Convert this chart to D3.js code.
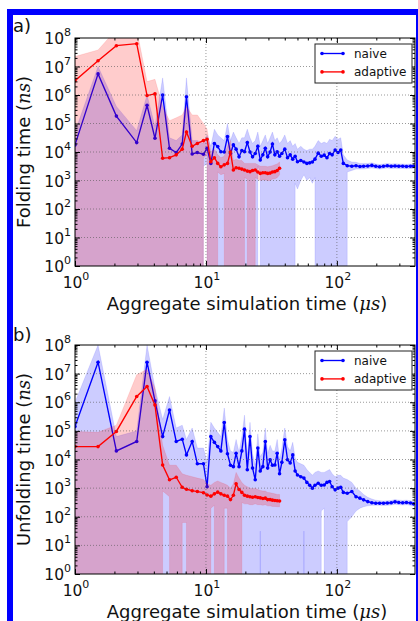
<!DOCTYPE html>
<html>
<head>
<meta charset="utf-8">
<script src="https://cdn.jsdelivr.net/npm/d3@7"></script>
<style>
  body { margin: 0; background: #fff; }
  svg { display: block; font-family: "DejaVu Sans", sans-serif; }
</style>
</head>
<body>
<div id="figure"></div>
<script>
// Aggregate simulation time (us), shared by both series
const simTime = [
  1.0, 1.5, 2.07, 2.96, 3.55, 4.08, 4.67, 5.27, 5.93, 6.59, 7.1, 7.85, 8.6, 9.57,
  10.2, 10.9, 11.6, 12.3, 13.0, 13.8, 14.6, 15.4, 16.2, 17.0, 17.9, 18.8, 19.7, 20.7,
  21.7, 22.7, 23.8, 24.9, 26.0, 27.2, 28.4, 29.6, 30.9, 32.2, 33.6, 35.0, 36.5,
  38, 40, 42, 44, 46, 48, 50, 53, 56, 59, 62, 65, 68, 72, 76, 80, 84, 88, 92, 97,
  102, 107, 112, 120, 130, 140, 150, 160, 172, 185, 198, 212, 227, 243, 260, 278,
  297, 318, 340, 365, 385,
];

// All series values are log10 of the time in ns; null = band runs off the bottom
const foldNaive = [
  4.25, 6.74, 5.26, 4.33, 5.64, 4.48, 6.0, 4.13, 3.98, 4.28, 5.94, 3.93, 3.98, 3.92,
  4.13, 3.6, 4.3, 4.19, 4.01, 4.0, 4.54, 3.95, 4.25, 4.1, 3.83, 4.05, 4.01, 4.33,
  4.0, 3.83, 3.95, 4.2, 3.72, 3.9, 4.13, 3.83, 4.0, 4.28, 3.9, 4.01, 3.85,
  3.95, 4.1, 3.8, 3.9, 3.75, 3.85, 3.66, 3.7, 3.65, 3.6, 3.62, 3.65, 3.75, 3.96,
  3.85, 3.89, 3.8, 3.95, 3.9, 4.07, 3.98, 4.07, 3.6, 3.52, 3.5, 3.52, 3.49, 3.5,
  3.51, 3.53, 3.5, 3.48, 3.5, 3.52, 3.5, 3.51, 3.5, 3.5, 3.49, 3.5, 3.5,
];
const foldNaiveHi = [
  4.7, 7.0, 5.6, 4.75, 6.0, 4.9, 6.6, 4.5, 4.4, 4.6, 6.6, 4.4, 4.4, 4.3,
  4.6, 4.2, 4.8, 4.6, 4.5, 4.4, 5.0, 4.4, 4.7, 4.5, 4.3, 4.5, 4.5, 4.8,
  4.5, 4.3, 4.4, 4.7, 4.2, 4.4, 4.6, 4.3, 4.5, 4.7, 4.4, 4.5, 4.3,
  4.4, 4.6, 4.3, 4.4, 4.2, 4.3, 4.1, 4.2, 4.1, 4.05, 4.1, 4.1, 4.2, 4.4,
  4.3, 4.35, 4.3, 4.45, 4.4, 4.55, 4.45, 4.5, 3.9, 3.72, 3.65, 3.64, 3.6, 3.6,
  3.6, 3.62, 3.58, 3.56, 3.58, 3.6, 3.58, 3.59, 3.58, 3.58, 3.57, 3.58, 3.58,
];
const foldNaiveLo = [
  null, null, null, null, null, null, null, null, null, null, null, null, null, 3.5,
  3.6, null, null, null, null, null, null, null, null, null, null, null, null, null,
  null, null, null, 3.5, 3.3, null, null, null, null, null, null, null, null,
  null, null, null, null, null, 2.9, 2.7, 3.0, 3.2, 3.0, 3.1, 2.9, 3.1, null,
  null, null, null, null, null, null, null, null, null, 3.3, 3.35, 3.4, 3.4, 3.4,
  3.42, 3.44, 3.42, 3.4, 3.42, 3.44, 3.42, 3.43, 3.42, 3.42, 3.41, 3.42, 3.42,
];
const foldAdaptive = [
  6.5, 7.2, 7.73, 7.8, 5.98, 6.04, 3.78, 3.8, 3.9, 4.1, 4.7, 4.2, 4.3, 4.4,
  4.45, 3.66, 3.8, 3.6, 3.48, 3.55, 3.6, 4.0, 3.37, 3.45, 3.43, 3.4, 3.37, 3.33,
  3.31, 3.35, 3.37, 3.3, 3.25, 3.27, 3.27, 3.25, 3.26, 3.3, 3.31, 3.35, 3.43,
];
const foldAdaptiveHi = [
  7.35, 7.58, 8.3, 8.3, 6.47, 6.55, 5.6, 5.1, 5.2, 5.3, 5.6, 5.3, 5.3, 5.0,
  4.8, 4.0, 4.1, 3.9, 3.8, 3.85, 4.2, 4.4, 3.7, 3.75, 3.7, 3.7, 3.6, 3.6,
  3.6, 3.6, 3.6, 3.55, 3.5, 3.5, 3.5, 3.48, 3.5, 3.52, 3.55, 3.58, 3.65,
];
const foldAdaptiveLo = [
  null, null, null, null, null, null, null, null, null, null, null, null, null, 3.8,
  3.9, null, null, 3.3, 3.2, 3.25, null, null, null, null, null, null, 3.1, 3.05,
  null, null, 3.1, 3.05, 3.0, 3.02, 3.02, 3.0, 3.0, 3.05, 3.06, 3.1, 3.2,
];

const unfoldNaive = [
  5.15, 7.4, 4.3, 4.63, 7.4, 6.05, 4.8, 5.73, 4.63, 4.71, 4.16, 4.63, 3.85, 3.85,
  3.05, 4.8, 4.6, 4.45, 4.3, 5.29, 4.2, 3.8, 3.75, 4.22, 3.75, 4.3, 5.06, 3.64,
  4.8, 3.7, 3.29, 4.4, 3.6, 3.75, 4.63, 3.7, 3.99, 3.8, 3.81, 4.22, 3.5,
  3.9, 4.69, 3.99, 3.88, 4.16, 3.6, 3.46, 3.4, 3.35, 3.2, 3.1, 3.0, 3.1, 3.17,
  3.1, 3.11, 3.2, 3.23, 3.05, 2.94, 3.0, 3.03, 2.85, 2.82, 2.88, 2.7, 2.65, 2.59,
  2.53, 2.49, 2.47, 2.47, 2.47, 2.48, 2.49, 2.52, 2.5, 2.49, 2.5, 2.48, 2.45,
];
const unfoldNaiveHi = [
  6.0, 8.0, 4.8, 5.0, 8.0, 6.5, 5.4, 6.2, 5.1, 5.2, 4.7, 5.1, 4.4, 4.4,
  3.9, 5.3, 5.1, 4.95, 4.8, 5.8, 4.7, 4.3, 4.25, 4.7, 4.25, 4.8, 5.55, 4.15,
  5.3, 4.2, 3.8, 4.9, 4.1, 4.25, 5.1, 4.2, 4.5, 4.3, 4.3, 4.7, 4.0,
  4.4, 5.1, 4.45, 4.3, 4.6, 4.05, 3.9, 3.85, 3.8, 3.65, 3.55, 3.45, 3.55, 3.6,
  3.55, 3.55, 3.6, 3.65, 3.5, 3.4, 3.45, 3.45, 3.35, 3.3, 3.2, 3.0, 2.9, 2.78,
  2.68, 2.62, 2.58, 2.56, 2.55, 2.56, 2.57, 2.6, 2.58, 2.57, 2.58, 2.56, 2.53,
];
const unfoldNaiveLo = [
  null, null, null, null, null, null, null, null, null, null, null, null, null, null,
  null, null, null, null, null, null, null, null, null, null, null, null, null, null,
  null, null, null, null, 1.5, null, null, null, null, null, null, null, null,
  null, null, null, null, null, null, null, null, 1.5, null, null, null, null, null,
  2.2, 2.3, null, null, null, null, null, null, null, 1.83, 2.0, 2.2, 2.3, 2.35,
  2.38, 2.4, 2.4, 2.4, 2.39, 2.4, 2.41, 2.44, 2.42, 2.41, 2.42, 2.4, 2.37,
];
const unfoldAdaptive = [
  4.45, 4.45, 4.98, 6.2, 6.55, 5.9, 3.81, 3.29, 3.38, 3.03, 2.96, 2.91, 2.88, 2.84,
  2.76, 2.72, 2.8, 2.86, 2.8, 2.75, 2.72, 2.6, 2.75, 3.15, 2.95, 2.85, 2.75, 2.72,
  2.7, 2.68, 2.7, 2.67, 2.66, 2.64, 2.65, 2.6, 2.6, 2.58, 2.57, 2.56, 2.55,
];
const unfoldAdaptiveHi = [
  4.98, 4.95, 5.2, 6.96, 7.15, 6.5, 4.5, 3.8, 3.8, 3.5, 3.45, 3.4, 3.35, 3.3,
  3.15, 3.1, 3.2, 3.25, 3.2, 3.15, 3.1, 3.0, 3.15, 3.55, 3.35, 3.2, 3.1, 3.05,
  3.0, 2.98, 3.0, 2.95, 2.92, 2.9, 2.9, 2.85, 2.84, 2.82, 2.8, 2.78, 2.78,
];
const unfoldAdaptiveLo = [
  null, null, null, null, null, null, 2.9, 2.7, null, 1.8, 1.8, null, null, null,
  null, 2.3, 2.4, null, null, 2.3, 2.3, null, null, null, null, 2.5, 2.45, 2.45,
  2.42, 2.42, 2.45, 2.42, 2.42, 2.4, 2.42, 2.38, 2.38, 2.36, 2.36, 2.35, 2.35,
];

const seriesNames = ["naive", "adaptive"];
const seriesColors = ["#0000ff", "#ff0000"];
const xTickExps = [0, 1, 2];
const yTickExps = [0, 1, 2, 3, 4, 5, 6, 7, 8];
const xLabel = "Aggregate simulation time (";
const yLabels = ["Folding time (", "Unfolding time ("];

const W = 418;
const H = 621;
const X_LEFT = 75;
const X_RIGHT = 415;

const panels = [
  {
    id: "a", letter: "a)", letterY: 32, top: 38, bottom: 266, ylabel: yLabels[0],
    series: [
      [foldNaive, foldNaiveHi, foldNaiveLo],
      [foldAdaptive, foldAdaptiveHi, foldAdaptiveLo],
    ],
  },
  {
    id: "b", letter: "b)", letterY: 341, top: 345, bottom: 574, ylabel: yLabels[1],
    series: [
      [unfoldNaive, unfoldNaiveHi, unfoldNaiveLo],
      [unfoldAdaptive, unfoldAdaptiveHi, unfoldAdaptiveLo],
    ],
  },
];

const svg = d3
  .select("#figure")
  .append("svg")
  .attr("width", W)
  .attr("height", H);

svg.append("rect").attr("width", W).attr("height", H).attr("fill", "#fff");

const x = d3.scaleLog().domain([1, 395]).range([X_LEFT, X_RIGHT]);

function drawPanel(p) {
  const y = d3.scaleLog().domain([1, 1e8]).range([p.bottom, p.top]);
  // null lower bounds behave like matplotlib's clipped log: far below the axis
  const yPos = (v) => y(v == null ? 1e-300 : Math.pow(10, v));

  svg
    .append("clipPath")
    .attr("id", `clip-${p.id}`)
    .append("rect")
    .attr("x", X_LEFT)
    .attr("y", p.top)
    .attr("width", X_RIGHT - X_LEFT)
    .attr("height", p.bottom - p.top);

  const plot = svg.append("g").attr("clip-path", `url(#clip-${p.id})`);

  const line = d3
    .line()
    .x((d) => x(d.t))
    .y((d) => yPos(d.m));

  const area = d3
    .area()
    .x((d) => x(d.t))
    .y0((d) => yPos(d.lo))
    .y1((d) => yPos(d.hi));

  p.series.forEach(([mean, hi, lo], si) => {
    const color = seriesColors[si];
    const pts = mean.map((m, i) => ({ t: simTime[i], m, hi: hi[i], lo: lo[i] }));

    plot
      .append("path")
      .datum(pts)
      .attr("d", line)
      .attr("fill", "none")
      .attr("stroke", color)
      .attr("stroke-width", 1.35);

    plot
      .append("g")
      .selectAll("circle")
      .data(pts)
      .enter()
      .append("circle")
      .attr("cx", (d) => x(d.t))
      .attr("cy", (d) => yPos(d.m))
      .attr("r", 1.8)
      .attr("fill", color);

    plot
      .append("path")
      .datum(pts)
      .attr("d", area)
      .attr("fill", color)
      .attr("fill-opacity", 0.2)
      .attr("stroke", color)
      .attr("stroke-opacity", 0.15)
      .attr("stroke-width", 0.7);
  });

  // dotted grid at the major ticks
  const grid = svg.append("g").attr("stroke", "#555").attr("stroke-width", 0.6).attr("stroke-dasharray", "1,2");
  yTickExps.slice(1, -1).forEach((e) => {
    grid.append("line").attr("x1", X_LEFT).attr("x2", X_RIGHT).attr("y1", y(10 ** e)).attr("y2", y(10 ** e));
  });
  xTickExps.slice(1).forEach((e) => {
    grid.append("line").attr("x1", x(10 ** e)).attr("x2", x(10 ** e)).attr("y1", p.top).attr("y2", p.bottom);
  });

  // inward ticks on all four spines
  const majorX = xTickExps.map((e) => 10 ** e);
  const minorX = x.ticks().filter((v) => !majorX.includes(v));
  const majorY = yTickExps.map((e) => 10 ** e);
  const minorY = [];
  yTickExps.slice(0, -1).forEach((e) => {
    for (let k = 2; k <= 9; k++) minorY.push(k * 10 ** e);
  });

  const addAxis = (axis, tx, ty) => {
    svg
      .append("g")
      .attr("transform", `translate(${tx},${ty})`)
      .attr("color", "#000")
      .call(axis.tickSizeOuter(0).tickFormat(""))
      .call((g) => g.select(".domain").remove());
  };
  [[majorX, 5], [minorX, 2.5]].forEach(([vals, len]) => {
    addAxis(d3.axisBottom(x).tickValues(vals).tickSize(-len), 0, p.bottom);
    addAxis(d3.axisTop(x).tickValues(vals).tickSize(-len), 0, p.top);
  });
  [[majorY, 5], [minorY, 2.5]].forEach(([vals, len]) => {
    addAxis(d3.axisLeft(y).tickValues(vals).tickSize(-len), X_LEFT, 0);
    addAxis(d3.axisRight(y).tickValues(vals).tickSize(-len), X_RIGHT, 0);
  });

  svg
    .append("rect")
    .attr("x", X_LEFT)
    .attr("y", p.top)
    .attr("width", X_RIGHT - X_LEFT)
    .attr("height", p.bottom - p.top)
    .attr("fill", "none")
    .attr("stroke", "#000")
    .attr("stroke-width", 1);

  // tick labels as 10 with superscript exponent
  const powLabel = (sel) =>
    sel.each(function (e) {
      const t = d3.select(this);
      t.append("tspan").attr("font-size", 15.5).text("10");
      t.append("tspan").attr("font-size", 11).attr("dy", -8).text(e);
    });

  svg
    .append("g")
    .attr("fill", "#111")
    .selectAll("text")
    .data(yTickExps)
    .enter()
    .append("text")
    .attr("x", X_LEFT - 4)
    .attr("y", (e) => y(10 ** e) + 6)
    .attr("text-anchor", "end")
    .call(powLabel);

  svg
    .append("g")
    .attr("fill", "#111")
    .selectAll("text")
    .data(xTickExps)
    .enter()
    .append("text")
    .attr("x", (e) => x(10 ** e) + 1)
    .attr("y", p.bottom + 22)
    .attr("text-anchor", "middle")
    .call(powLabel);

  // axis labels
  const xl = svg
    .append("text")
    .attr("x", (X_LEFT + X_RIGHT) / 2 + 2)
    .attr("y", p.bottom + 44)
    .attr("text-anchor", "middle")
    .attr("font-size", 18)
    .attr("fill", "#111");
  xl.append("tspan").text(xLabel);
  xl.append("tspan").attr("font-family", "DejaVu Serif").attr("font-style", "italic").text("\u03bcs");
  xl.append("tspan").text(")");

  const yl = svg
    .append("text")
    .attr("transform", `translate(30,${(p.top + p.bottom) / 2}) rotate(-90)`)
    .attr("text-anchor", "middle")
    .attr("font-size", 18)
    .attr("fill", "#111");
  yl.append("tspan").text(p.ylabel);
  yl.append("tspan").attr("font-family", "DejaVu Serif").attr("font-style", "italic").text("ns");
  yl.append("tspan").text(")");

  svg
    .append("text")
    .attr("x", 13)
    .attr("y", p.letterY)
    .attr("font-size", 18)
    .attr("fill", "#111")
    .text(p.letter);

  // legend
  const lg = svg.append("g").attr("transform", `translate(315,${p.top + 6})`);
  lg.append("rect")
    .attr("width", 97)
    .attr("height", 39)
    .attr("fill", "#fff")
    .attr("stroke", "#222")
    .attr("stroke-width", 1);
  seriesNames.forEach((name, i) => {
    const ry = 9.5 + i * 18.4;
    lg.append("line")
      .attr("x1", 7)
      .attr("x2", 28)
      .attr("y1", ry)
      .attr("y2", ry)
      .attr("stroke", seriesColors[i])
      .attr("stroke-width", 1.35);
    [7, 28].forEach((cx) => {
      lg.append("circle").attr("cx", cx).attr("cy", ry).attr("r", 1.8).attr("fill", seriesColors[i]);
    });
    lg.append("text")
      .attr("x", 39)
      .attr("y", ry + 4)
      .attr("font-size", 12)
      .attr("fill", "#111")
      .text(name);
  });
}

panels.forEach(drawPanel);

// blue frame round the figure
svg
  .append("rect")
  .attr("x", 10)
  .attr("y", 12)
  .attr("width", 409)
  .attr("height", 640)
  .attr("fill", "none")
  .attr("stroke", "#0000ff")
  .attr("stroke-width", 6);
</script>
</body>
</html>
